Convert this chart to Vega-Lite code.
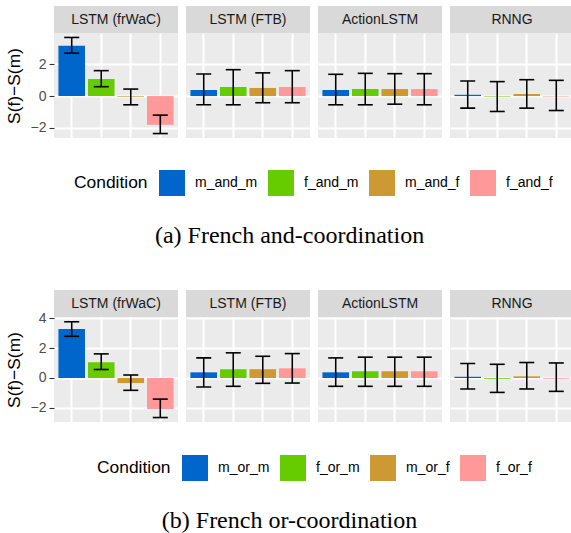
{
"$schema": "https://vega.github.io/schema/vega-lite/v6.json",
"background": "white",
"padding": {"left": 5, "top": 6, "right": 0, "bottom": 0},
"datasets": {
"and": [
{"model":"LSTM (frWaC)","cond":"m_and_m","val":3.17,"lo":2.70,"hi":3.69},
{"model":"LSTM (frWaC)","cond":"f_and_m","val":1.08,"lo":0.59,"hi":1.60},
{"model":"LSTM (frWaC)","cond":"m_and_f","val":-0.04,"lo":-0.55,"hi":0.44},
{"model":"LSTM (frWaC)","cond":"f_and_f","val":-1.81,"lo":-2.36,"hi":-1.20},
{"model":"LSTM (FTB)","cond":"m_and_m","val":0.38,"lo":-0.55,"hi":1.39},
{"model":"LSTM (FTB)","cond":"f_and_m","val":0.57,"lo":-0.55,"hi":1.66},
{"model":"LSTM (FTB)","cond":"m_and_f","val":0.51,"lo":-0.42,"hi":1.46},
{"model":"LSTM (FTB)","cond":"f_and_f","val":0.57,"lo":-0.42,"hi":1.60},
{"model":"ActionLSTM","cond":"m_and_m","val":0.38,"lo":-0.55,"hi":1.37},
{"model":"ActionLSTM","cond":"f_and_m","val":0.44,"lo":-0.55,"hi":1.43},
{"model":"ActionLSTM","cond":"m_and_f","val":0.44,"lo":-0.51,"hi":1.41},
{"model":"ActionLSTM","cond":"f_and_f","val":0.44,"lo":-0.55,"hi":1.41},
{"model":"RNNG","cond":"m_and_m","val":0.08,"lo":-0.76,"hi":0.95},
{"model":"RNNG","cond":"f_and_m","val":-0.02,"lo":-0.97,"hi":0.91},
{"model":"RNNG","cond":"m_and_f","val":0.13,"lo":-0.76,"hi":1.03},
{"model":"RNNG","cond":"f_and_f","val":-0.03,"lo":-0.91,"hi":0.99}
],
"or": [
{"model":"LSTM (frWaC)","cond":"m_or_m","val":3.29,"lo":2.80,"hi":3.78},
{"model":"LSTM (frWaC)","cond":"f_or_m","val":1.06,"lo":0.57,"hi":1.62},
{"model":"LSTM (frWaC)","cond":"m_or_f","val":-0.34,"lo":-0.83,"hi":0.20},
{"model":"LSTM (frWaC)","cond":"f_or_f","val":-2.09,"lo":-2.66,"hi":-1.42},
{"model":"LSTM (FTB)","cond":"m_or_m","val":0.38,"lo":-0.61,"hi":1.35},
{"model":"LSTM (FTB)","cond":"f_or_m","val":0.59,"lo":-0.56,"hi":1.69},
{"model":"LSTM (FTB)","cond":"m_or_f","val":0.59,"lo":-0.36,"hi":1.46},
{"model":"LSTM (FTB)","cond":"f_or_f","val":0.65,"lo":-0.34,"hi":1.64},
{"model":"ActionLSTM","cond":"m_or_m","val":0.38,"lo":-0.56,"hi":1.35},
{"model":"ActionLSTM","cond":"f_or_m","val":0.45,"lo":-0.56,"hi":1.40},
{"model":"ActionLSTM","cond":"m_or_f","val":0.45,"lo":-0.56,"hi":1.40},
{"model":"ActionLSTM","cond":"f_or_f","val":0.45,"lo":-0.56,"hi":1.40},
{"model":"RNNG","cond":"m_or_m","val":0.08,"lo":-0.74,"hi":0.97},
{"model":"RNNG","cond":"f_or_m","val":-0.05,"lo":-0.97,"hi":0.92},
{"model":"RNNG","cond":"m_or_f","val":0.11,"lo":-0.74,"hi":1.04},
{"model":"RNNG","cond":"f_or_f","val":-0.05,"lo":-0.90,"hi":1.01}
]
},
"spacing": 42,
"resolve": {"scale": {"color": "independent"}, "legend": {"color": "independent"}},
"vconcat": [
{
"title": {"text": "(a) French and-coordination", "orient": "bottom", "anchor": "middle", "font": "Liberation Serif", "fontSize": 24, "fontWeight": "normal", "color": "#000000", "offset": 28},
"spacing": 8,
"hconcat": [
{"bounds":"flush","spacing":0,"vconcat":[
{"width":124,"height":27,"view":{"fill":"#d9d9d9","stroke":null},"data":{"values":[{"model":"LSTM (frWaC)"}]},"mark":{"type":"text","fontSize":14,"color":"#1a1a1a","font":"Liberation Sans"},"encoding":{"text":{"field":"model","type":"nominal"}}},
{"width":124,"height":105,"view":{"fill":"#ebebeb","stroke":null},"data":{"name":"and"},"transform":[{"filter":{"field":"model","equal":"LSTM (frWaC)"}}],
"encoding":{"x":{"field":"cond","type":"nominal","scale":{"domain":["m_and_m","f_and_m","m_and_f","f_and_f"],"paddingInner":0.1,"paddingOuter":0.15},"axis":{"title":null}}},
"layer":[
{"mark":{"type":"bar"},"encoding":{"y":{"field":"val","type":"quantitative","scale":{"domain":[-2.64,3.97],"nice":false,"zero":false},"axis":{"values":[-2,0,2],"title":"S(f)−S(m)"}},"y2":{"datum":0},"color":{"field":"cond","type":"nominal","scale":{"domain":["m_and_m","f_and_m","m_and_f","f_and_f"],"range":["#0066CC","#66CC00","#CC9933","#FF9999"]},"legend":{"title":"Condition","orient":"none","legendX":20,"legendY":164}}}},
{"mark":{"type":"rule","color":"#000000","strokeWidth":1.6},"encoding":{"y":{"field":"lo","type":"quantitative","axis":{"values":[-1,1,3],"labels":false,"ticks":false,"title":null,"gridWidth":1,"orient":"right"}},"y2":{"field":"hi"}}},
{"mark":{"type":"tick","color":"#000000","size":15,"thickness":1.6,"opacity":1},"encoding":{"y":{"field":"lo","type":"quantitative","axis":null}}},
{"mark":{"type":"tick","color":"#000000","size":15,"thickness":1.6,"opacity":1},"encoding":{"y":{"field":"hi","type":"quantitative","axis":null}}}
],
"resolve":{"axis":{"y":"independent"}}}
]},
{"bounds":"flush","spacing":0,"vconcat":[
{"width":124,"height":27,"view":{"fill":"#d9d9d9","stroke":null},"data":{"values":[{"model":"LSTM (FTB)"}]},"mark":{"type":"text","fontSize":14,"color":"#1a1a1a","font":"Liberation Sans"},"encoding":{"text":{"field":"model","type":"nominal"}}},
{"width":124,"height":105,"view":{"fill":"#ebebeb","stroke":null},"data":{"name":"and"},"transform":[{"filter":{"field":"model","equal":"LSTM (FTB)"}}],
"encoding":{"x":{"field":"cond","type":"nominal","scale":{"domain":["m_and_m","f_and_m","m_and_f","f_and_f"],"paddingInner":0.1,"paddingOuter":0.15},"axis":{"title":null}}},
"layer":[
{"mark":{"type":"bar"},"encoding":{"y":{"field":"val","type":"quantitative","scale":{"domain":[-2.64,3.97],"nice":false,"zero":false},"axis":{"values":[-2,0,2],"labels":false,"ticks":false,"title":null}},"y2":{"datum":0},"color":{"field":"cond","type":"nominal","scale":{"domain":["m_and_m","f_and_m","m_and_f","f_and_f"],"range":["#0066CC","#66CC00","#CC9933","#FF9999"]},"legend":{"title":"Condition","orient":"none","legendX":20,"legendY":164}}}},
{"mark":{"type":"rule","color":"#000000","strokeWidth":1.6},"encoding":{"y":{"field":"lo","type":"quantitative","axis":{"values":[-1,1,3],"labels":false,"ticks":false,"title":null,"gridWidth":1,"orient":"right"}},"y2":{"field":"hi"}}},
{"mark":{"type":"tick","color":"#000000","size":15,"thickness":1.6,"opacity":1},"encoding":{"y":{"field":"lo","type":"quantitative","axis":null}}},
{"mark":{"type":"tick","color":"#000000","size":15,"thickness":1.6,"opacity":1},"encoding":{"y":{"field":"hi","type":"quantitative","axis":null}}}
],
"resolve":{"axis":{"y":"independent"}}}
]},
{"bounds":"flush","spacing":0,"vconcat":[
{"width":124,"height":27,"view":{"fill":"#d9d9d9","stroke":null},"data":{"values":[{"model":"ActionLSTM"}]},"mark":{"type":"text","fontSize":14,"color":"#1a1a1a","font":"Liberation Sans"},"encoding":{"text":{"field":"model","type":"nominal"}}},
{"width":124,"height":105,"view":{"fill":"#ebebeb","stroke":null},"data":{"name":"and"},"transform":[{"filter":{"field":"model","equal":"ActionLSTM"}}],
"encoding":{"x":{"field":"cond","type":"nominal","scale":{"domain":["m_and_m","f_and_m","m_and_f","f_and_f"],"paddingInner":0.1,"paddingOuter":0.15},"axis":{"title":null}}},
"layer":[
{"mark":{"type":"bar"},"encoding":{"y":{"field":"val","type":"quantitative","scale":{"domain":[-2.64,3.97],"nice":false,"zero":false},"axis":{"values":[-2,0,2],"labels":false,"ticks":false,"title":null}},"y2":{"datum":0},"color":{"field":"cond","type":"nominal","scale":{"domain":["m_and_m","f_and_m","m_and_f","f_and_f"],"range":["#0066CC","#66CC00","#CC9933","#FF9999"]},"legend":{"title":"Condition","orient":"none","legendX":20,"legendY":164}}}},
{"mark":{"type":"rule","color":"#000000","strokeWidth":1.6},"encoding":{"y":{"field":"lo","type":"quantitative","axis":{"values":[-1,1,3],"labels":false,"ticks":false,"title":null,"gridWidth":1,"orient":"right"}},"y2":{"field":"hi"}}},
{"mark":{"type":"tick","color":"#000000","size":15,"thickness":1.6,"opacity":1},"encoding":{"y":{"field":"lo","type":"quantitative","axis":null}}},
{"mark":{"type":"tick","color":"#000000","size":15,"thickness":1.6,"opacity":1},"encoding":{"y":{"field":"hi","type":"quantitative","axis":null}}}
],
"resolve":{"axis":{"y":"independent"}}}
]},
{"bounds":"flush","spacing":0,"vconcat":[
{"width":124,"height":27,"view":{"fill":"#d9d9d9","stroke":null},"data":{"values":[{"model":"RNNG"}]},"mark":{"type":"text","fontSize":14,"color":"#1a1a1a","font":"Liberation Sans"},"encoding":{"text":{"field":"model","type":"nominal"}}},
{"width":124,"height":105,"view":{"fill":"#ebebeb","stroke":null},"data":{"name":"and"},"transform":[{"filter":{"field":"model","equal":"RNNG"}}],
"encoding":{"x":{"field":"cond","type":"nominal","scale":{"domain":["m_and_m","f_and_m","m_and_f","f_and_f"],"paddingInner":0.1,"paddingOuter":0.15},"axis":{"title":null}}},
"layer":[
{"mark":{"type":"bar"},"encoding":{"y":{"field":"val","type":"quantitative","scale":{"domain":[-2.64,3.97],"nice":false,"zero":false},"axis":{"values":[-2,0,2],"labels":false,"ticks":false,"title":null}},"y2":{"datum":0},"color":{"field":"cond","type":"nominal","scale":{"domain":["m_and_m","f_and_m","m_and_f","f_and_f"],"range":["#0066CC","#66CC00","#CC9933","#FF9999"]},"legend":{"title":"Condition","orient":"none","legendX":20,"legendY":164}}}},
{"mark":{"type":"rule","color":"#000000","strokeWidth":1.6},"encoding":{"y":{"field":"lo","type":"quantitative","axis":{"values":[-1,1,3],"labels":false,"ticks":false,"title":null,"gridWidth":1,"orient":"right"}},"y2":{"field":"hi"}}},
{"mark":{"type":"tick","color":"#000000","size":15,"thickness":1.6,"opacity":1},"encoding":{"y":{"field":"lo","type":"quantitative","axis":null}}},
{"mark":{"type":"tick","color":"#000000","size":15,"thickness":1.6,"opacity":1},"encoding":{"y":{"field":"hi","type":"quantitative","axis":null}}}
],
"resolve":{"axis":{"y":"independent"}}}
]}
]
},
{
"title": {"text": "(b) French or-coordination", "orient": "bottom", "anchor": "middle", "font": "Liberation Serif", "fontSize": 24, "fontWeight": "normal", "color": "#000000", "offset": 28},
"spacing": 8,
"hconcat": [
{"bounds":"flush","spacing":0,"vconcat":[
{"width":124,"height":27,"view":{"fill":"#d9d9d9","stroke":null},"data":{"values":[{"model":"LSTM (frWaC)"}]},"mark":{"type":"text","fontSize":14,"color":"#1a1a1a","font":"Liberation Sans"},"encoding":{"text":{"field":"model","type":"nominal"}}},
{"width":124,"height":105,"view":{"fill":"#ebebeb","stroke":null},"data":{"name":"or"},"transform":[{"filter":{"field":"model","equal":"LSTM (frWaC)"}}],
"encoding":{"x":{"field":"cond","type":"nominal","scale":{"domain":["m_or_m","f_or_m","m_or_f","f_or_f"],"paddingInner":0.1,"paddingOuter":0.15},"axis":{"title":null}}},
"layer":[
{"mark":{"type":"bar"},"encoding":{"y":{"field":"val","type":"quantitative","scale":{"domain":[-2.96,4.1],"nice":false,"zero":false},"axis":{"values":[-2,0,2,4],"title":"S(f)−S(m)"}},"y2":{"datum":0},"color":{"field":"cond","type":"nominal","scale":{"domain":["m_or_m","f_or_m","m_or_f","f_or_f"],"range":["#0066CC","#66CC00","#CC9933","#FF9999"]},"legend":{"title":"Condition","orient":"none","legendX":43,"legendY":165}}}},
{"mark":{"type":"rule","color":"#000000","strokeWidth":1.6},"encoding":{"y":{"field":"lo","type":"quantitative","axis":{"values":[-1,1,3],"labels":false,"ticks":false,"title":null,"gridWidth":1,"orient":"right"}},"y2":{"field":"hi"}}},
{"mark":{"type":"tick","color":"#000000","size":15,"thickness":1.6,"opacity":1},"encoding":{"y":{"field":"lo","type":"quantitative","axis":null}}},
{"mark":{"type":"tick","color":"#000000","size":15,"thickness":1.6,"opacity":1},"encoding":{"y":{"field":"hi","type":"quantitative","axis":null}}}
],
"resolve":{"axis":{"y":"independent"}}}
]},
{"bounds":"flush","spacing":0,"vconcat":[
{"width":124,"height":27,"view":{"fill":"#d9d9d9","stroke":null},"data":{"values":[{"model":"LSTM (FTB)"}]},"mark":{"type":"text","fontSize":14,"color":"#1a1a1a","font":"Liberation Sans"},"encoding":{"text":{"field":"model","type":"nominal"}}},
{"width":124,"height":105,"view":{"fill":"#ebebeb","stroke":null},"data":{"name":"or"},"transform":[{"filter":{"field":"model","equal":"LSTM (FTB)"}}],
"encoding":{"x":{"field":"cond","type":"nominal","scale":{"domain":["m_or_m","f_or_m","m_or_f","f_or_f"],"paddingInner":0.1,"paddingOuter":0.15},"axis":{"title":null}}},
"layer":[
{"mark":{"type":"bar"},"encoding":{"y":{"field":"val","type":"quantitative","scale":{"domain":[-2.96,4.1],"nice":false,"zero":false},"axis":{"values":[-2,0,2,4],"labels":false,"ticks":false,"title":null}},"y2":{"datum":0},"color":{"field":"cond","type":"nominal","scale":{"domain":["m_or_m","f_or_m","m_or_f","f_or_f"],"range":["#0066CC","#66CC00","#CC9933","#FF9999"]},"legend":{"title":"Condition","orient":"none","legendX":43,"legendY":165}}}},
{"mark":{"type":"rule","color":"#000000","strokeWidth":1.6},"encoding":{"y":{"field":"lo","type":"quantitative","axis":{"values":[-1,1,3],"labels":false,"ticks":false,"title":null,"gridWidth":1,"orient":"right"}},"y2":{"field":"hi"}}},
{"mark":{"type":"tick","color":"#000000","size":15,"thickness":1.6,"opacity":1},"encoding":{"y":{"field":"lo","type":"quantitative","axis":null}}},
{"mark":{"type":"tick","color":"#000000","size":15,"thickness":1.6,"opacity":1},"encoding":{"y":{"field":"hi","type":"quantitative","axis":null}}}
],
"resolve":{"axis":{"y":"independent"}}}
]},
{"bounds":"flush","spacing":0,"vconcat":[
{"width":124,"height":27,"view":{"fill":"#d9d9d9","stroke":null},"data":{"values":[{"model":"ActionLSTM"}]},"mark":{"type":"text","fontSize":14,"color":"#1a1a1a","font":"Liberation Sans"},"encoding":{"text":{"field":"model","type":"nominal"}}},
{"width":124,"height":105,"view":{"fill":"#ebebeb","stroke":null},"data":{"name":"or"},"transform":[{"filter":{"field":"model","equal":"ActionLSTM"}}],
"encoding":{"x":{"field":"cond","type":"nominal","scale":{"domain":["m_or_m","f_or_m","m_or_f","f_or_f"],"paddingInner":0.1,"paddingOuter":0.15},"axis":{"title":null}}},
"layer":[
{"mark":{"type":"bar"},"encoding":{"y":{"field":"val","type":"quantitative","scale":{"domain":[-2.96,4.1],"nice":false,"zero":false},"axis":{"values":[-2,0,2,4],"labels":false,"ticks":false,"title":null}},"y2":{"datum":0},"color":{"field":"cond","type":"nominal","scale":{"domain":["m_or_m","f_or_m","m_or_f","f_or_f"],"range":["#0066CC","#66CC00","#CC9933","#FF9999"]},"legend":{"title":"Condition","orient":"none","legendX":43,"legendY":165}}}},
{"mark":{"type":"rule","color":"#000000","strokeWidth":1.6},"encoding":{"y":{"field":"lo","type":"quantitative","axis":{"values":[-1,1,3],"labels":false,"ticks":false,"title":null,"gridWidth":1,"orient":"right"}},"y2":{"field":"hi"}}},
{"mark":{"type":"tick","color":"#000000","size":15,"thickness":1.6,"opacity":1},"encoding":{"y":{"field":"lo","type":"quantitative","axis":null}}},
{"mark":{"type":"tick","color":"#000000","size":15,"thickness":1.6,"opacity":1},"encoding":{"y":{"field":"hi","type":"quantitative","axis":null}}}
],
"resolve":{"axis":{"y":"independent"}}}
]},
{"bounds":"flush","spacing":0,"vconcat":[
{"width":124,"height":27,"view":{"fill":"#d9d9d9","stroke":null},"data":{"values":[{"model":"RNNG"}]},"mark":{"type":"text","fontSize":14,"color":"#1a1a1a","font":"Liberation Sans"},"encoding":{"text":{"field":"model","type":"nominal"}}},
{"width":124,"height":105,"view":{"fill":"#ebebeb","stroke":null},"data":{"name":"or"},"transform":[{"filter":{"field":"model","equal":"RNNG"}}],
"encoding":{"x":{"field":"cond","type":"nominal","scale":{"domain":["m_or_m","f_or_m","m_or_f","f_or_f"],"paddingInner":0.1,"paddingOuter":0.15},"axis":{"title":null}}},
"layer":[
{"mark":{"type":"bar"},"encoding":{"y":{"field":"val","type":"quantitative","scale":{"domain":[-2.96,4.1],"nice":false,"zero":false},"axis":{"values":[-2,0,2,4],"labels":false,"ticks":false,"title":null}},"y2":{"datum":0},"color":{"field":"cond","type":"nominal","scale":{"domain":["m_or_m","f_or_m","m_or_f","f_or_f"],"range":["#0066CC","#66CC00","#CC9933","#FF9999"]},"legend":{"title":"Condition","orient":"none","legendX":43,"legendY":165}}}},
{"mark":{"type":"rule","color":"#000000","strokeWidth":1.6},"encoding":{"y":{"field":"lo","type":"quantitative","axis":{"values":[-1,1,3],"labels":false,"ticks":false,"title":null,"gridWidth":1,"orient":"right"}},"y2":{"field":"hi"}}},
{"mark":{"type":"tick","color":"#000000","size":15,"thickness":1.6,"opacity":1},"encoding":{"y":{"field":"lo","type":"quantitative","axis":null}}},
{"mark":{"type":"tick","color":"#000000","size":15,"thickness":1.6,"opacity":1},"encoding":{"y":{"field":"hi","type":"quantitative","axis":null}}}
],
"resolve":{"axis":{"y":"independent"}}}
]}
]
}
],
"config": {
"view": {"stroke": null},
"font": "Liberation Sans",
"axis": {"labelFont": "Liberation Sans", "labelFontSize": 14, "labelColor": "#4d4d4d", "tickColor": "#333333", "tickSize": 5, "tickWidth": 1.1, "labelPadding": 3, "domain": false, "grid": true, "gridColor": "#ffffff", "gridWidth": 2, "gridOpacity": 1, "titleFont": "Liberation Sans", "titleFontSize": 17.4, "titleFontWeight": "normal", "titleColor": "#000000", "titlePadding": 7},
"axisX": {"labels": false, "ticks": false, "domain": false, "grid": true, "bandPosition": 0.5},
"legend": {"direction": "horizontal", "titleOrient": "left", "titleAnchor": "middle", "titleBaseline": "middle", "titleFont": "Liberation Sans", "titleFontSize": 17.4, "titleFontWeight": "normal", "titleColor": "#000000", "titlePadding": 11, "labelFont": "Liberation Sans", "labelFontSize": 14, "labelColor": "#000000", "labelOffset": 10, "columnPadding": 10, "symbolType": "square", "symbolSize": 676, "symbolStrokeWidth": 0, "symbolOpacity": 1}
}
}
